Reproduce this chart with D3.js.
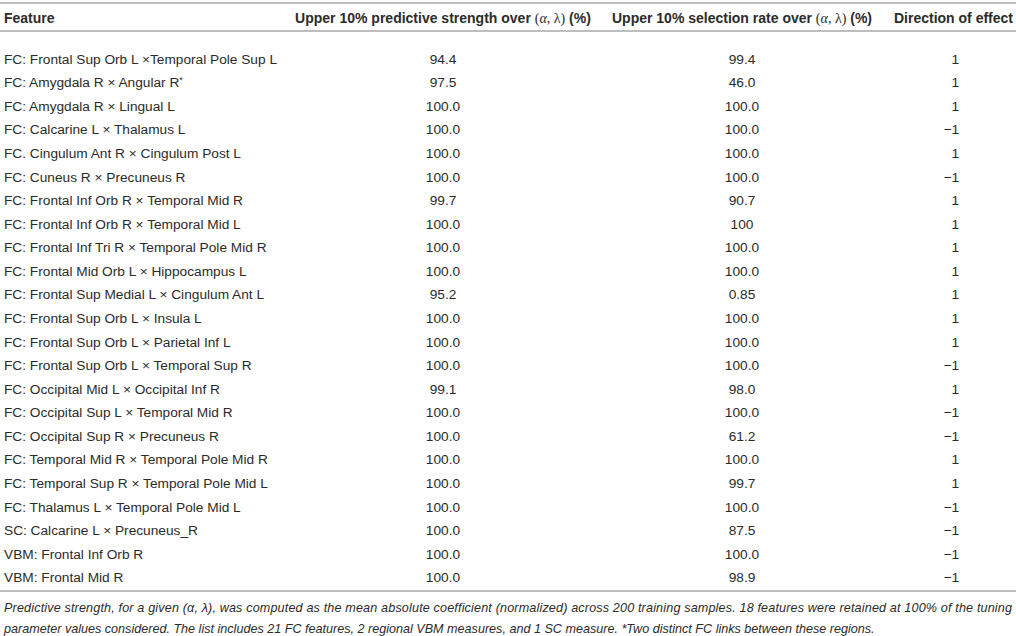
<!DOCTYPE html>
<html><head><meta charset="utf-8">
<script src="https://cdn.jsdelivr.net/npm/d3@7/dist/d3.min.js"></script>
<style>
html,body{margin:0;padding:0;background:#fff;}
svg{display:block;}
</style></head><body>
<svg id="chart" width="1016" height="636"></svg>
<script>
const features = [
  "FC: Frontal Sup Orb L \u00d7Temporal Pole Sup L",
  "FC: Amygdala R \u00d7 Angular R*",
  "FC: Amygdala R \u00d7 Lingual L",
  "FC: Calcarine L \u00d7 Thalamus L",
  "FC. Cingulum Ant R \u00d7 Cingulum Post L",
  "FC: Cuneus R \u00d7 Precuneus R",
  "FC: Frontal Inf Orb R \u00d7 Temporal Mid R",
  "FC: Frontal Inf Orb R \u00d7 Temporal Mid L",
  "FC: Frontal Inf Tri R \u00d7 Temporal Pole Mid R",
  "FC: Frontal Mid Orb L \u00d7 Hippocampus L",
  "FC: Frontal Sup Medial L \u00d7 Cingulum Ant L",
  "FC: Frontal Sup Orb L \u00d7 Insula L",
  "FC: Frontal Sup Orb L \u00d7 Parietal Inf L",
  "FC: Frontal Sup Orb L \u00d7 Temporal Sup R",
  "FC: Occipital Mid L \u00d7 Occipital Inf R",
  "FC: Occipital Sup L \u00d7 Temporal Mid R",
  "FC: Occipital Sup R \u00d7 Precuneus R",
  "FC: Temporal Mid R \u00d7 Temporal Pole Mid R",
  "FC: Temporal Sup R \u00d7 Temporal Pole Mid L",
  "FC: Thalamus L \u00d7 Temporal Pole Mid L",
  "SC: Calcarine L \u00d7 Precuneus_R",
  "VBM: Frontal Inf Orb R",
  "VBM: Frontal Mid R"
];
const strength = ["94.4","97.5","100.0","100.0","100.0","100.0","99.7","100.0","100.0","100.0","95.2","100.0","100.0","100.0","99.1","100.0","100.0","100.0","100.0","100.0","100.0","100.0","100.0"];
const selection = ["99.4","46.0","100.0","100.0","100.0","100.0","90.7","100","100.0","100.0","0.85","100.0","100.0","100.0","98.0","100.0","61.2","100.0","99.7","100.0","87.5","100.0","98.9"];
const direction = [1,1,1,-1,1,-1,1,1,1,1,1,1,1,-1,1,-1,-1,1,1,-1,-1,-1,-1];
const headers = ["Feature","Upper 10% predictive strength over ","Upper 10% selection rate over ","Direction of effect"];
const footLines = [
  "Predictive strength, for a given (\u03b1, \u03bb), was computed as the mean absolute coefficient (normalized) across 200 training samples. 18 features were retained at 100% of the tuning",
  "parameter values considered. The list includes 21 FC features, 2 regional VBM measures, and 1 SC measure. *Two distinct FC links between these regions."
];

const svg = d3.select("#chart");
const W = 1016;
const font = "'Liberation Sans', Arial, Helvetica, sans-serif";
const txt = "#2b2b2b";
const rule = "#a8a8a8";

const y = d3.scaleBand().domain(d3.range(features.length)).range([47, 589]);

const colX = {feat: 4, c2: 443, c3: 742, c4: 959};

// rules
[3, 31, 591].forEach(yy => {
  svg.append("line").attr("x1",0).attr("x2",W).attr("y1",yy).attr("y2",yy)
    .attr("stroke",rule).attr("stroke-width",1.5);
});

// header
const hg = svg.append("g").attr("font-family",font).attr("font-size",14).attr("fill",txt).attr("font-weight","bold");
hg.append("text").attr("x",colX.feat).attr("y",22.5).text(headers[0]);
function greekHeader(x, label){
  const t = hg.append("text").attr("x",x).attr("y",22.5).attr("text-anchor","middle");
  t.append("tspan").text(label);
  const g = t.append("tspan").attr("font-family","'Liberation Serif', 'DejaVu Serif', serif").attr("font-weight","normal").attr("font-size",14);
  g.append("tspan").text("(");
  g.append("tspan").attr("font-style","italic").text("\u03b1");
  g.append("tspan").text(", \u03bb)");
  t.append("tspan").text(" (%)");
}
greekHeader(colX.c2, headers[1]);
greekHeader(colX.c3, headers[2]);
hg.append("text").attr("x",1013).attr("y",22.5).attr("text-anchor","end").text(headers[3]);

// body
const rows = svg.append("g").attr("font-family",font).attr("font-size",13.7).attr("fill",txt)
  .selectAll("g").data(features).join("g")
  .attr("transform",(d,i)=>`translate(0,${y(i)+y.bandwidth()/2+5})`);

rows.append("text").attr("x",colX.feat).each(function(d){
  const t = d3.select(this);
  if (d.endsWith("*")) {
    t.append("tspan").text(d.slice(0,-1));
    t.append("tspan").attr("font-size",9).attr("dy",-4).text("*");
  } else t.text(d);
});
rows.append("text").attr("x",colX.c2).attr("text-anchor","middle").text((d,i)=>strength[i]);
rows.append("text").attr("x",colX.c3).attr("text-anchor","middle").text((d,i)=>selection[i]);
rows.append("text").attr("x",colX.c4).attr("text-anchor","end").text((d,i)=>direction[i] < 0 ? "\u2212" + Math.abs(direction[i]) : String(direction[i]));

// footnote
const fg = svg.append("g").attr("font-family",font).attr("font-size",12.6).attr("font-style","italic").attr("fill",txt);
fg.append("text").attr("x",4).attr("y",612).attr("textLength",1008).attr("lengthAdjust","spacing").text(footLines[0]);
fg.append("text").attr("x",4).attr("y",633).text(footLines[1]);
</script>
</body></html>
